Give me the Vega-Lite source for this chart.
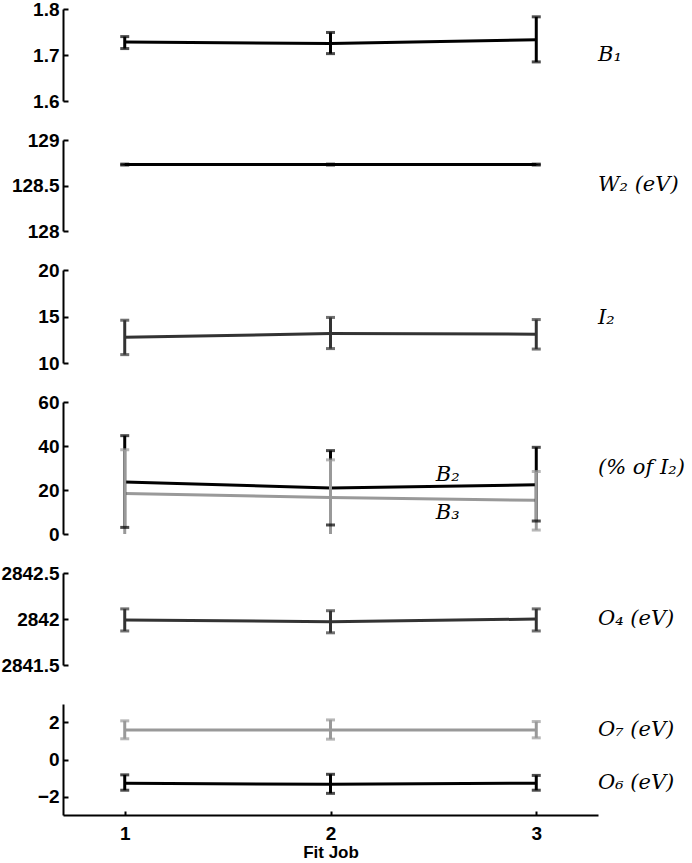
{
  "$schema": "https://vega.github.io/schema/vega-lite/v6.json",
  "background": "white",
  "padding": {"left": 0, "top": 0, "right": 5, "bottom": 0},
  "bounds": "flush",
  "spacing": 39,
  "datasets": {
    "pts": [
      {"panel": "P1", "series": "B1", "job": 1, "v": 1.728, "lo": 1.714, "hi": 1.740},
      {"panel": "P1", "series": "B1", "job": 2, "v": 1.725, "lo": 1.703, "hi": 1.749},
      {"panel": "P1", "series": "B1", "job": 3, "v": 1.733, "lo": 1.685, "hi": 1.783},
      {"panel": "P2", "series": "W2", "job": 1, "v": 128.73, "lo": 128.725, "hi": 128.735},
      {"panel": "P2", "series": "W2", "job": 2, "v": 128.73, "lo": 128.725, "hi": 128.735},
      {"panel": "P2", "series": "W2", "job": 3, "v": 128.73, "lo": 128.725, "hi": 128.735},
      {"panel": "P3", "series": "I2", "job": 1, "v": 12.77, "lo": 10.9, "hi": 14.6},
      {"panel": "P3", "series": "I2", "job": 2, "v": 13.16, "lo": 11.55, "hi": 14.9},
      {"panel": "P3", "series": "I2", "job": 3, "v": 13.1, "lo": 11.5, "hi": 14.67},
      {"panel": "P4", "series": "B2", "job": 1, "v": 23.6, "lo": 3.0, "hi": 44.7},
      {"panel": "P4", "series": "B2", "job": 2, "v": 20.9, "lo": 4.1, "hi": 37.9},
      {"panel": "P4", "series": "B2", "job": 3, "v": 22.4, "lo": 5.9, "hi": 39.4},
      {"panel": "P4", "series": "B3", "job": 1, "v": 18.4, "lo": -1.5, "hi": 38.3},
      {"panel": "P4", "series": "B3", "job": 2, "v": 16.6, "lo": -1.0, "hi": 33.7},
      {"panel": "P4", "series": "B3", "job": 3, "v": 15.3, "lo": 1.8, "hi": 28.4},
      {"panel": "P5", "series": "O4", "job": 1, "v": 2841.99, "lo": 2841.87, "hi": 2842.11},
      {"panel": "P5", "series": "O4", "job": 2, "v": 2841.97, "lo": 2841.85, "hi": 2842.09},
      {"panel": "P5", "series": "O4", "job": 3, "v": 2842.0, "lo": 2841.87, "hi": 2842.11},
      {"panel": "P6", "series": "O7", "job": 1, "v": 1.6, "lo": 1.12, "hi": 2.09},
      {"panel": "P6", "series": "O7", "job": 2, "v": 1.6, "lo": 1.1, "hi": 2.14},
      {"panel": "P6", "series": "O7", "job": 3, "v": 1.6, "lo": 1.17, "hi": 2.05},
      {"panel": "P6", "series": "O6", "job": 1, "v": -1.28, "lo": -1.66, "hi": -0.83},
      {"panel": "P6", "series": "O6", "job": 2, "v": -1.34, "lo": -1.83, "hi": -0.80},
      {"panel": "P6", "series": "O6", "job": 3, "v": -1.28, "lo": -1.66, "hi": -0.86}
    ],
    "labels": [
      {"panel": "P1", "x": 3.3, "y": 1.70, "t": "B₁"},
      {"panel": "P2", "x": 3.3, "y": 128.51, "t": "W₂ (eV)"},
      {"panel": "P3", "x": 3.3, "y": 14.85, "t": "I₂"},
      {"panel": "P4", "x": 3.3, "y": 29.8, "t": "(% of I₂)"},
      {"panel": "P4", "x": 2.57, "y": 26.6, "t": "B₂", "a": "center"},
      {"panel": "P4", "x": 2.57, "y": 9.5, "t": "B₃", "a": "center"},
      {"panel": "P5", "x": 3.3, "y": 2842.0, "t": "O₄ (eV)"},
      {"panel": "P6", "x": 3.3, "y": 1.6, "t": "O₇ (eV)"},
      {"panel": "P6", "x": 3.3, "y": -1.25, "t": "O₆ (eV)"}
    ]
  },
  "config": {
    "view": {"stroke": null},
    "axis": {
      "grid": false,
      "domainColor": "black",
      "domainWidth": 2,
      "tickColor": "black",
      "tickWidth": 2,
      "tickSize": -5,
      "labelPadding": 9,
      "labelFont": "Liberation Sans",
      "labelFontWeight": "bold",
      "labelFontSize": 19,
      "labelColor": "black",
      "titleFont": "Liberation Sans",
      "titleFontWeight": "bold",
      "titleFontSize": 17,
      "titleColor": "black"
    },
    "text": {"font": "DejaVu Serif", "fontStyle": "italic", "fontSize": 21, "color": "black"}
  },
  "vconcat": [
    {
      "width": 535, "height": 92,
      "data": {"name": "pts"},
      "transform": [{"filter": "datum.panel == 'P1'"}],
      "layer": [
        {"mark": {"type": "line", "strokeWidth": 3, "clip": true},
         "encoding": {"x": {"field": "job", "type": "quantitative", "scale": {"domain": [0.7, 3.3], "nice": false}, "axis": null},
                      "y": {"field": "v", "type": "quantitative", "scale": {"domain": [1.6, 1.8], "zero": false, "nice": false}, "axis": {"values": [1.6, 1.7, 1.8], "format": ".1f", "title": null}},
                      "color": {"field": "series", "scale": {"domain": ["B1","W2","I2","B2","B3","O4","O7","O6"], "range": ["#000000","#000000","#333333","#000000","#999999","#333333","#999999","#000000"]}, "legend": null}}},
        {"mark": {"type": "rule", "strokeWidth": 3, "clip": true},
         "encoding": {"x": {"field": "job", "type": "quantitative"}, "y": {"field": "lo", "type": "quantitative"}, "y2": {"field": "hi"}, "color": {"field": "series", "legend": null}}},
        {"mark": {"type": "tick", "orient": "horizontal", "size": 9, "thickness": 3, "clip": true},
         "encoding": {"x": {"field": "job", "type": "quantitative"}, "y": {"field": "lo", "type": "quantitative"}, "color": {"field": "series", "legend": null}}},
        {"mark": {"type": "tick", "orient": "horizontal", "size": 9, "thickness": 3, "clip": true},
         "encoding": {"x": {"field": "job", "type": "quantitative"}, "y": {"field": "hi", "type": "quantitative"}, "color": {"field": "series", "legend": null}}},
        {"data": {"name": "labels"}, "transform": [{"filter": "datum.panel == 'P1'"}],
         "mark": {"type": "text", "align": "left", "baseline": "middle"},
         "encoding": {"x": {"field": "x", "type": "quantitative"}, "y": {"field": "y", "type": "quantitative"}, "text": {"field": "t"}}}
      ]
    },
    {
      "width": 535, "height": 91,
      "data": {"name": "pts"},
      "transform": [{"filter": "datum.panel == 'P2'"}],
      "layer": [
        {"mark": {"type": "line", "strokeWidth": 3, "clip": true},
         "encoding": {"x": {"field": "job", "type": "quantitative", "scale": {"domain": [0.7, 3.3], "nice": false}, "axis": null},
                      "y": {"field": "v", "type": "quantitative", "scale": {"domain": [128, 129], "zero": false, "nice": false}, "axis": {"values": [128, 128.5, 129], "format": ".1~f", "title": null}},
                      "color": {"field": "series", "legend": null}}},
        {"mark": {"type": "rule", "strokeWidth": 3, "clip": true},
         "encoding": {"x": {"field": "job", "type": "quantitative"}, "y": {"field": "lo", "type": "quantitative"}, "y2": {"field": "hi"}, "color": {"field": "series", "legend": null}}},
        {"mark": {"type": "tick", "orient": "horizontal", "size": 9, "thickness": 3, "clip": true},
         "encoding": {"x": {"field": "job", "type": "quantitative"}, "y": {"field": "lo", "type": "quantitative"}, "color": {"field": "series", "legend": null}}},
        {"mark": {"type": "tick", "orient": "horizontal", "size": 9, "thickness": 3, "clip": true},
         "encoding": {"x": {"field": "job", "type": "quantitative"}, "y": {"field": "hi", "type": "quantitative"}, "color": {"field": "series", "legend": null}}},
        {"data": {"name": "labels"}, "transform": [{"filter": "datum.panel == 'P2'"}],
         "mark": {"type": "text", "align": "left", "baseline": "middle"},
         "encoding": {"x": {"field": "x", "type": "quantitative"}, "y": {"field": "y", "type": "quantitative"}, "text": {"field": "t"}}}
      ]
    },
    {
      "width": 535, "height": 93,
      "data": {"name": "pts"},
      "transform": [{"filter": "datum.panel == 'P3'"}],
      "layer": [
        {"mark": {"type": "line", "strokeWidth": 3, "clip": true},
         "encoding": {"x": {"field": "job", "type": "quantitative", "scale": {"domain": [0.7, 3.3], "nice": false}, "axis": null},
                      "y": {"field": "v", "type": "quantitative", "scale": {"domain": [10, 20], "zero": false, "nice": false}, "axis": {"values": [10, 15, 20], "format": "d", "title": null}},
                      "color": {"field": "series", "legend": null}}},
        {"mark": {"type": "rule", "strokeWidth": 3, "clip": true},
         "encoding": {"x": {"field": "job", "type": "quantitative"}, "y": {"field": "lo", "type": "quantitative"}, "y2": {"field": "hi"}, "color": {"field": "series", "legend": null}}},
        {"mark": {"type": "tick", "orient": "horizontal", "size": 9, "thickness": 3, "clip": true},
         "encoding": {"x": {"field": "job", "type": "quantitative"}, "y": {"field": "lo", "type": "quantitative"}, "color": {"field": "series", "legend": null}}},
        {"mark": {"type": "tick", "orient": "horizontal", "size": 9, "thickness": 3, "clip": true},
         "encoding": {"x": {"field": "job", "type": "quantitative"}, "y": {"field": "hi", "type": "quantitative"}, "color": {"field": "series", "legend": null}}},
        {"data": {"name": "labels"}, "transform": [{"filter": "datum.panel == 'P3'"}],
         "mark": {"type": "text", "align": "left", "baseline": "middle"},
         "encoding": {"x": {"field": "x", "type": "quantitative"}, "y": {"field": "y", "type": "quantitative"}, "text": {"field": "t"}}}
      ]
    },
    {
      "width": 535, "height": 132,
      "data": {"name": "pts"},
      "transform": [{"filter": "datum.panel == 'P4'"}],
      "layer": [
        {"mark": {"type": "line", "strokeWidth": 3, "clip": true},
         "encoding": {"x": {"field": "job", "type": "quantitative", "scale": {"domain": [0.7, 3.3], "nice": false}, "axis": null},
                      "y": {"field": "v", "type": "quantitative", "scale": {"domain": [0, 60], "zero": false, "nice": false}, "axis": {"values": [0, 20, 40, 60], "format": "d", "title": null}},
                      "color": {"field": "series", "legend": null}}},
        {"mark": {"type": "rule", "strokeWidth": 3, "clip": true},
         "encoding": {"x": {"field": "job", "type": "quantitative"}, "y": {"field": "lo", "type": "quantitative"}, "y2": {"field": "hi"}, "color": {"field": "series", "legend": null}}},
        {"mark": {"type": "tick", "orient": "horizontal", "size": 9, "thickness": 3, "clip": true},
         "encoding": {"x": {"field": "job", "type": "quantitative"}, "y": {"field": "lo", "type": "quantitative"}, "color": {"field": "series", "legend": null}}},
        {"mark": {"type": "tick", "orient": "horizontal", "size": 9, "thickness": 3, "clip": true},
         "encoding": {"x": {"field": "job", "type": "quantitative"}, "y": {"field": "hi", "type": "quantitative"}, "color": {"field": "series", "legend": null}}},
        {"data": {"name": "labels"}, "transform": [{"filter": "datum.panel == 'P4' && !datum.a"}],
         "mark": {"type": "text", "align": "left", "baseline": "middle"},
         "encoding": {"x": {"field": "x", "type": "quantitative"}, "y": {"field": "y", "type": "quantitative"}, "text": {"field": "t"}}},
        {"data": {"name": "labels"}, "transform": [{"filter": "datum.panel == 'P4' && datum.a == 'center'"}],
         "mark": {"type": "text", "align": "center", "baseline": "middle"},
         "encoding": {"x": {"field": "x", "type": "quantitative"}, "y": {"field": "y", "type": "quantitative"}, "text": {"field": "t"}}}
      ]
    },
    {
      "width": 535, "height": 92,
      "data": {"name": "pts"},
      "transform": [{"filter": "datum.panel == 'P5'"}],
      "layer": [
        {"mark": {"type": "line", "strokeWidth": 3, "clip": true},
         "encoding": {"x": {"field": "job", "type": "quantitative", "scale": {"domain": [0.7, 3.3], "nice": false}, "axis": null},
                      "y": {"field": "v", "type": "quantitative", "scale": {"domain": [2841.5, 2842.5], "zero": false, "nice": false}, "axis": {"values": [2841.5, 2842, 2842.5], "format": ".1~f", "title": null}},
                      "color": {"field": "series", "legend": null}}},
        {"mark": {"type": "rule", "strokeWidth": 3, "clip": true},
         "encoding": {"x": {"field": "job", "type": "quantitative"}, "y": {"field": "lo", "type": "quantitative"}, "y2": {"field": "hi"}, "color": {"field": "series", "legend": null}}},
        {"mark": {"type": "tick", "orient": "horizontal", "size": 9, "thickness": 3, "clip": true},
         "encoding": {"x": {"field": "job", "type": "quantitative"}, "y": {"field": "lo", "type": "quantitative"}, "color": {"field": "series", "legend": null}}},
        {"mark": {"type": "tick", "orient": "horizontal", "size": 9, "thickness": 3, "clip": true},
         "encoding": {"x": {"field": "job", "type": "quantitative"}, "y": {"field": "hi", "type": "quantitative"}, "color": {"field": "series", "legend": null}}},
        {"data": {"name": "labels"}, "transform": [{"filter": "datum.panel == 'P5'"}],
         "mark": {"type": "text", "align": "left", "baseline": "middle"},
         "encoding": {"x": {"field": "x", "type": "quantitative"}, "y": {"field": "y", "type": "quantitative"}, "text": {"field": "t"}}}
      ]
    },
    {
      "width": 535, "height": 111,
      "data": {"name": "pts"},
      "transform": [{"filter": "datum.panel == 'P6'"}],
      "layer": [
        {"mark": {"type": "line", "strokeWidth": 3, "clip": true},
         "encoding": {"x": {"field": "job", "type": "quantitative", "scale": {"domain": [0.7, 3.3], "nice": false}, "axis": {"values": [1, 2, 3], "format": "d", "title": "Fit Job", "tickSize": -4, "labelPadding": 13, "titlePadding": 1}},
                      "y": {"field": "v", "type": "quantitative", "scale": {"domain": [-3, 3], "zero": false, "nice": false}, "axis": {"values": [-2, 0, 2], "format": "d", "title": null}},
                      "color": {"field": "series", "legend": null}}},
        {"mark": {"type": "rule", "strokeWidth": 3, "clip": true},
         "encoding": {"x": {"field": "job", "type": "quantitative"}, "y": {"field": "lo", "type": "quantitative"}, "y2": {"field": "hi"}, "color": {"field": "series", "legend": null}}},
        {"mark": {"type": "tick", "orient": "horizontal", "size": 9, "thickness": 3, "clip": true},
         "encoding": {"x": {"field": "job", "type": "quantitative"}, "y": {"field": "lo", "type": "quantitative"}, "color": {"field": "series", "legend": null}}},
        {"mark": {"type": "tick", "orient": "horizontal", "size": 9, "thickness": 3, "clip": true},
         "encoding": {"x": {"field": "job", "type": "quantitative"}, "y": {"field": "hi", "type": "quantitative"}, "color": {"field": "series", "legend": null}}},
        {"data": {"name": "labels"}, "transform": [{"filter": "datum.panel == 'P6'"}],
         "mark": {"type": "text", "align": "left", "baseline": "middle"},
         "encoding": {"x": {"field": "x", "type": "quantitative"}, "y": {"field": "y", "type": "quantitative"}, "text": {"field": "t"}}}
      ]
    }
  ]
}
